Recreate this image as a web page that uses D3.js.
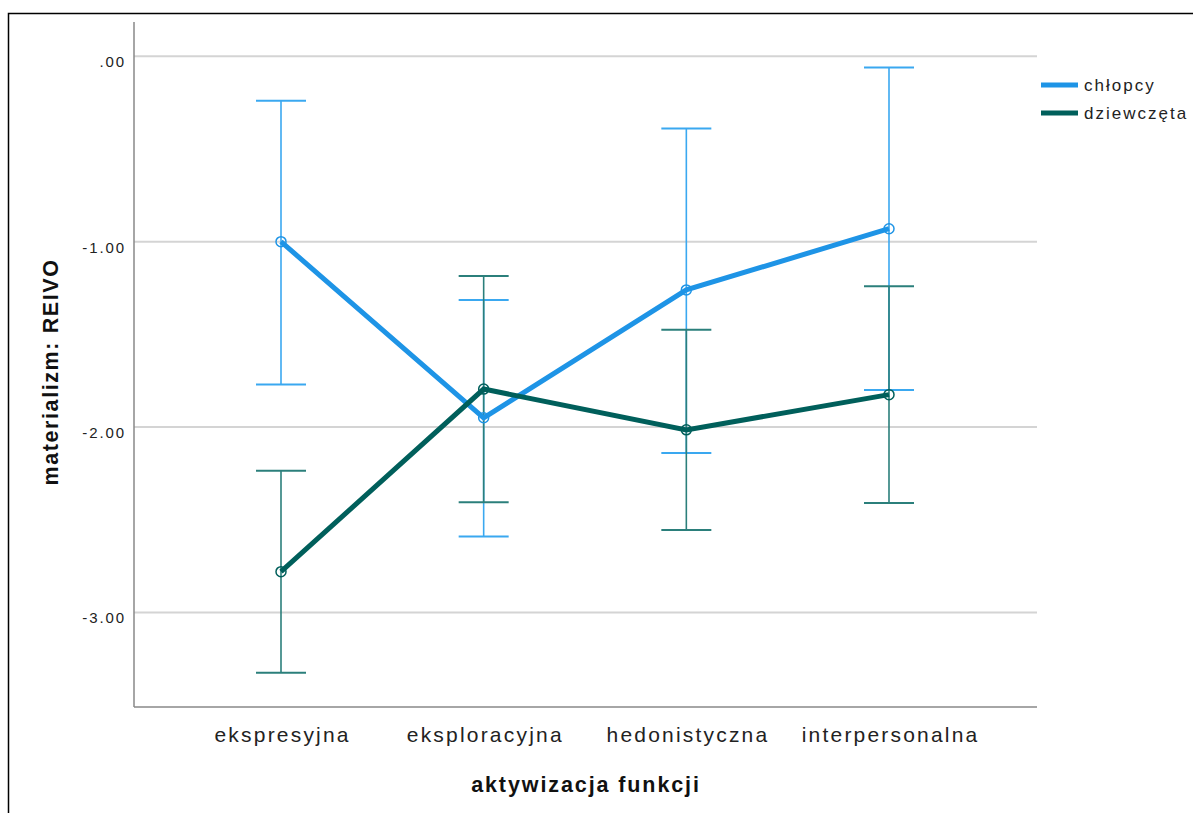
<!DOCTYPE html>
<html><head><meta charset="utf-8">
<script src="https://cdn.jsdelivr.net/npm/d3@7"></script>
<style>body{margin:0;background:#fff}svg{display:block}</style>
</head><body>
<script>
const categories = ["ekspresyjna","eksploracyjna","hedonistyczna","interpersonalna"];
const seriesNames = ["chłopcy","dziewczęta"];
const boysMean = [-1.00,-1.95,-1.26,-0.93];
const boysLow  = [-1.77,-2.59,-2.14,-1.80];
const boysHigh = [-0.24,-1.315,-0.39,-0.06];
const girlsMean = [-2.78,-1.795,-2.015,-1.825];
const girlsLow  = [-3.325,-2.405,-2.555,-2.41];
const girlsHigh = [-2.235,-1.185,-1.475,-1.24];
const yTicks = [0,-1,-2,-3];

const W=1193,H=813;
const FONT="Liberation Sans, Arial, sans-serif";
const svg=d3.select("body").append("svg").attr("width",W).attr("height",H);
svg.append("rect").attr("x",8.5).attr("y",13.5).attr("width",1200).attr("height",900)
  .attr("fill","none").attr("stroke","#000").attr("stroke-width",1.5);

const L=134,R=1037,T=22,B=707;
const y=d3.scaleLinear().domain([-3.51,0.185]).range([B,T]);
const x=d3.scalePoint().domain(categories).range([281,889]);

// grid
svg.append("g").selectAll("line").data(yTicks).join("line")
  .attr("x1",L).attr("x2",R).attr("y1",d=>y(d)).attr("y2",d=>y(d))
  .attr("stroke","#d4d4d4").attr("stroke-width",2);

// axes
const ya=svg.append("g").attr("transform",`translate(${L},0)`)
  .call(d3.axisLeft(y).tickValues(yTicks).tickSize(0).tickPadding(8)
    .tickFormat(d=>d===0?".00":d3.format(".2f")(d).replace("−","-")));
ya.select(".domain").attr("stroke","#888").attr("stroke-width",1.5).attr("d",`M0,${T}V${B}`);
ya.selectAll("text").attr("font-family",FONT).attr("font-size",15).attr("fill","#222")
  .attr("letter-spacing",1.9).attr("dy","0.7em");

const xa=svg.append("g").attr("transform",`translate(0,${B})`)
  .call(d3.axisBottom(x).tickSize(0).tickPadding(20));
xa.select(".domain").attr("stroke","#888").attr("stroke-width",1.5).attr("d",`M${L},0H${R}`);
xa.selectAll("text").attr("font-family",FONT).attr("font-size",21).attr("fill","#222")
  .attr("letter-spacing",2.2).attr("dx",1.1);

svg.append("text").attr("x",586).attr("y",792).attr("text-anchor","middle")
  .attr("font-family",FONT).attr("font-weight","bold").attr("font-size",21.5)
  .attr("letter-spacing",1.9).attr("fill","#111").text("aktywizacja funkcji");
svg.append("text").attr("transform",`translate(58,372) rotate(-90)`).attr("text-anchor","middle")
  .attr("font-family",FONT).attr("font-weight","bold").attr("font-size",21.5)
  .attr("letter-spacing",1.6).attr("fill","#111").text("materializm: REIVO");

const series=[
  {name:seriesNames[0],mean:boysMean,lo:boysLow,hi:boysHigh,line:"#1e94e6",bar:"#3aa8f0"},
  {name:seriesNames[1],mean:girlsMean,lo:girlsLow,hi:girlsHigh,line:"#005f5b",bar:"#2b7f7b"}
];
const hw=25;
series.forEach(s=>{
  const g=svg.append("g");
  categories.forEach((c,i)=>{
    const cx=x(c);
    g.append("line").attr("x1",cx).attr("x2",cx).attr("y1",y(s.lo[i])).attr("y2",y(s.hi[i])).attr("stroke",s.bar).attr("stroke-width",1.6);
    g.append("line").attr("x1",cx-hw).attr("x2",cx+hw).attr("y1",y(s.lo[i])).attr("y2",y(s.lo[i])).attr("stroke",s.bar).attr("stroke-width",2);
    g.append("line").attr("x1",cx-hw).attr("x2",cx+hw).attr("y1",y(s.hi[i])).attr("y2",y(s.hi[i])).attr("stroke",s.bar).attr("stroke-width",2);
  });
});
series.forEach(s=>{
  const g=svg.append("g");
  const line=d3.line().x((d,i)=>x(categories[i])).y(d=>y(d));
  g.append("path").datum(s.mean).attr("d",line).attr("fill","none").attr("stroke",s.line).attr("stroke-width",5);
  g.selectAll("circle").data(s.mean).join("circle").attr("cx",(d,i)=>x(categories[i])).attr("cy",d=>y(d))
    .attr("r",5).attr("fill","none").attr("stroke",s.line).attr("stroke-width",1.5);
});

// legend
const lg=svg.append("g");
series.forEach((s,i)=>{
  const ly=85+i*28;
  lg.append("line").attr("x1",1041).attr("x2",1078).attr("y1",ly).attr("y2",ly).attr("stroke",s.line).attr("stroke-width",5);
  lg.append("text").attr("x",1084).attr("y",ly+6).attr("font-family",FONT).attr("font-size",17)
    .attr("letter-spacing",2).attr("fill","#222").text(s.name);
});
</script>
</body></html>
